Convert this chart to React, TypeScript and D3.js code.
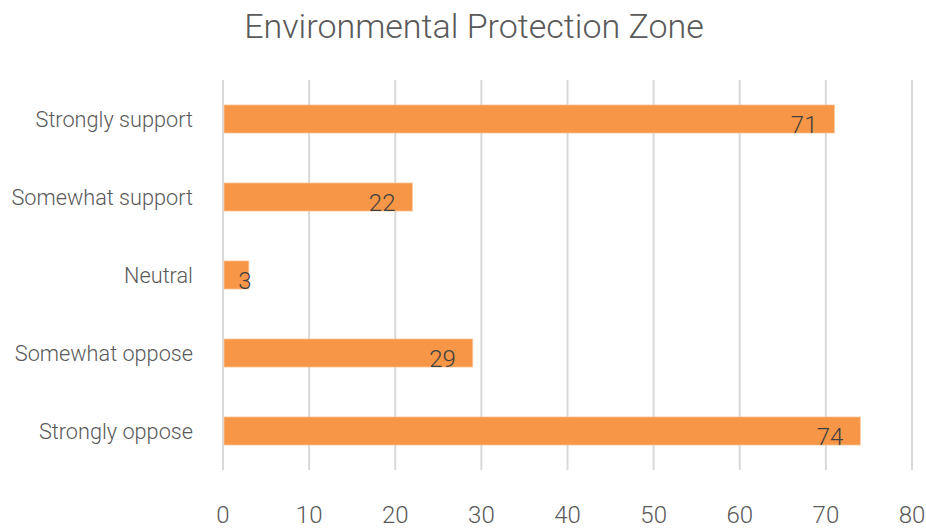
import React from "react";
import * as d3 from "d3";

const categories = ["Strongly support", "Somewhat support", "Neutral", "Somewhat oppose", "Strongly oppose"];
const values = [71, 22, 3, 29, 74];
const xTicks = [0, 10, 20, 30, 40, 50, 60, 70, 80];
const title = "Environmental Protection Zone";

const W = 926;
const H = 529;
const FONT = "Roboto, 'Open Sans', sans-serif";

export default function App() {
  const x = d3.scaleLinear().domain([0, 80]).range([223, 912]);
  const y = d3.scaleBand<string>().domain(categories).range([80, 470]).paddingInner(0.64).paddingOuter(0.32);
  const bh = y.bandwidth();
  return (
    <svg width={W} height={H} style={{ position: "absolute", left: 0, top: 0, background: "#fff" }} fontFamily={FONT}>
      <text x={474} y={38} textAnchor="middle" fontSize={34} fontWeight={300} fill="#595959">{title}</text>
      {xTicks.map((t) => (
        <g key={t}>
          <line x1={x(t)} x2={x(t)} y1={80} y2={470} stroke="#d9d9d9" strokeWidth={2} />
          <text x={x(t)} y={523} textAnchor="middle" fontSize={24} fontWeight={300} fill="#595959">{t}</text>
        </g>
      ))}
      {categories.map((c, i) => {
        const y0 = y(c)!;
        const cy = y0 + bh / 2;
        const x0 = x(0) + 1;
        const x1 = x(values[i]);
        const label = String(values[i]);
        const tw = label.length * 11.5;
        const lx = Math.max(x1 - 17, x(0) + 17 + tw);
        return (
          <g key={c}>
            <text x={193} y={cy + 8} textAnchor="end" fontSize={21.7} fontWeight={300} fill="#595959">{c}</text>
            <rect x={x0} y={y0} width={x1 - x0} height={bh} fill="#F79646" stroke="#fbc9a0" strokeWidth={0.75} />
            <text x={lx} y={cy + 14} textAnchor="end" fontSize={24} fontWeight={300} fill="#404040">{label}</text>
          </g>
        );
      })}
    </svg>
  );
}
